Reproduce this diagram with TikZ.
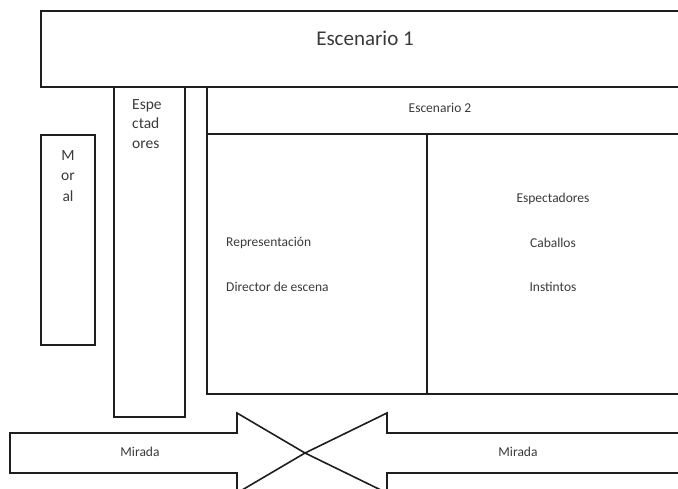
\documentclass[tikz,border=0pt]{standalone}
\usepackage{fontspec}
\setmainfont{Carlito}
\usepackage{xcolor}
\usepackage{tikz}
\usetikzlibrary{positioning}
\definecolor{PlanLine}{HTML}{1E1E1E}
\definecolor{PlanText}{HTML}{3A3A3A}

\begin{document}
\begin{tikzpicture}[
  x=1pt,y=-1pt,
  wall/.style={draw=PlanLine,line width=1.6pt,anchor=north west,inner sep=0pt,outer sep=0pt},
  lbl/.style={text=PlanText,inner sep=0pt,font=\fontsize{13.5}{19}\selectfont},
  narrow/.style={text=PlanText,inner sep=0pt,font=\fontsize{15.5}{19.5}\selectfont},
  title/.style={text=PlanText,inner sep=0pt,font=\fontsize{21}{24}\selectfont},
  gaze/.style={draw=PlanLine,line width=1.6pt,line join=miter,fill=white}
]
  \useasboundingbox (0,0) rectangle (678,488);
  \clip (0,0) rectangle (678,488);

  % stages and columns
  \node[wall,minimum width=680pt,minimum height=76pt] (esc1) at (41,11) {};
  \node[wall,minimum width=71pt,minimum height=330pt] (publico) at (114,87) {};
  \node[wall,minimum width=54pt,minimum height=210pt] (moral) at (41,135) {};
  \node[wall,minimum width=500pt,minimum height=47pt] (esc2) at (207,87) {};
  \node[wall,minimum width=220pt,minimum height=260pt] (repr) at (207,134) {};
  \node[wall,minimum width=280pt,minimum height=260pt] (cuadra) at (427,134) {};

  % texts
  \node[title] (t1) at (365,38) {Escenario 1};
  \node[lbl] (t2) at (440,108) {Escenario 2};
  \node[narrow,anchor=west,align=left] (tpub) at (132,124) {Espe\\ctad\\ores};
  \node[narrow,align=center,font=\fontsize{15.5}{20.5}\selectfont] (tmoral) at (68,176) {M\\or\\al};
  \node[lbl,anchor=west] (trep) at (226,243) {Representación};
  \node[lbl,anchor=west] (tdir) at (226,287) {Director de escena};
  \node[lbl] (tesp) at (553,199) {Espectadores};
  \node[lbl] (tcab) at (553,243) {Caballos};
  \node[lbl] (tins) at (553,287) {Instintos};

  % the two gazes meeting
  \coordinate (cruce) at (305,453);
  \draw[gaze] (10,433) -- (237,433) -- (237,413) -- (cruce)
    -- (237,493) -- (237,473) -- (10,473) -- cycle;
  \draw[gaze] (690,433) -- (387,433) -- (387,413) -- (cruce)
    -- (387,493) -- (387,473) -- (690,473) -- cycle;
  \node[lbl] (mir1) at (140,452) {Mirada};
  \node[lbl] (mir2) at (518,452) {Mirada};
\end{tikzpicture}
\end{document}
